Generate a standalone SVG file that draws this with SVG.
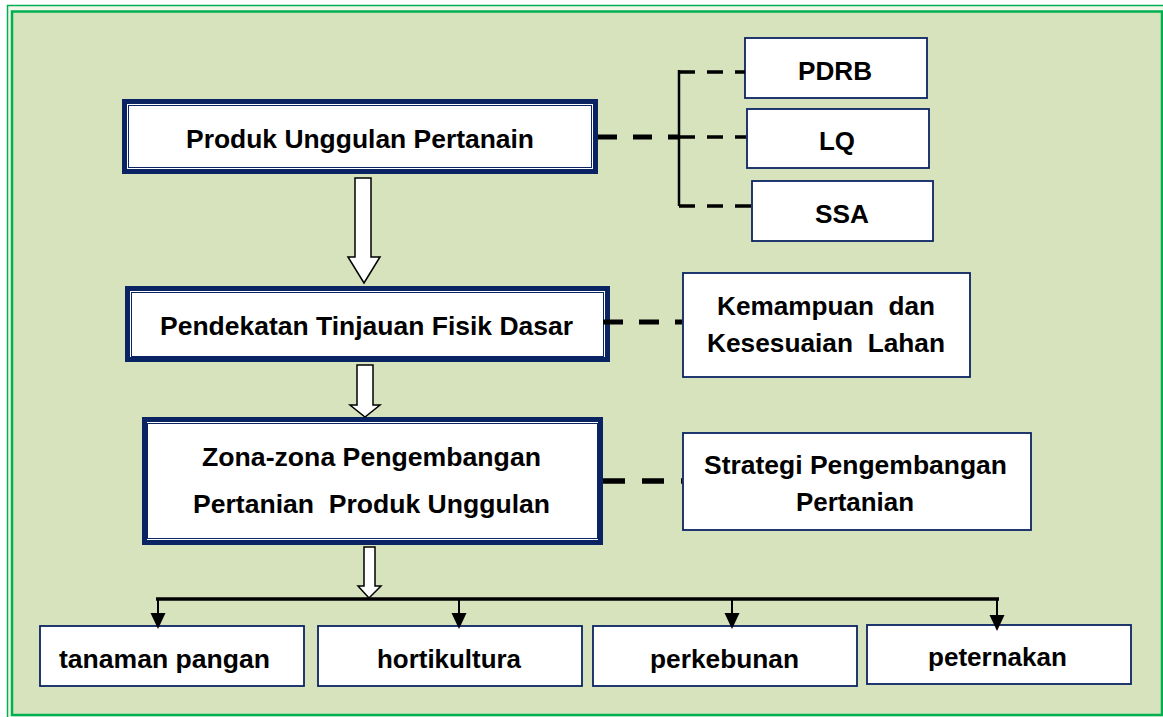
<svg xmlns="http://www.w3.org/2000/svg" width="1163" height="717" viewBox="0 0 1163 717">
<style>
.t{font-family:"Liberation Sans",Arial,sans-serif;font-weight:bold;font-size:25px;fill:#000;white-space:pre}
.b{font-size:26px}
.thick{fill:#fff;stroke:#0A2463;stroke-width:5}
.thin{fill:none;stroke:#0A2463;stroke-width:1}
.box{fill:#fff;stroke:#0A2463;stroke-width:1.8}
.blk{fill:#fff;stroke:#000;stroke-width:1.5;stroke-linejoin:miter}
.dash{fill:none;stroke:#000}
.head{fill:#000}
</style>
<rect width="1163" height="717" fill="#fff"/>
<rect x="7.5" y="5.5" width="1170" height="720" fill="#F2F7EA" stroke="#00B050" stroke-width="1.5"/>
<rect x="12" y="11.5" width="1150" height="703.5" fill="#D6E3BC" stroke="#00B050" stroke-width="2.5"/>

<g id="n-produk">
<rect class="thick" x="124.5" y="101.5" width="471" height="70"/>
<rect class="thin" x="128.5" y="105.5" width="463" height="62"/>
<text class="t" x="186" y="148" textLength="348" lengthAdjust="spacingAndGlyphs">Produk Unggulan Pertanain</text>
</g>
<g id="n-pendekatan">
<rect class="thick" x="127.5" y="288.5" width="480" height="71"/>
<rect class="thin" x="131.5" y="292.5" width="472" height="64"/>
<text class="t" x="160" y="335" textLength="413" lengthAdjust="spacingAndGlyphs">Pendekatan Tinjauan Fisik Dasar</text>
</g>
<g id="n-zona">
<rect class="thick" x="144.5" y="419.5" width="456" height="123"/>
<rect class="thin" x="147.5" y="423.5" width="450" height="115"/>
<text class="t" x="202" y="466" textLength="339" lengthAdjust="spacingAndGlyphs">Zona-zona Pengembangan</text>
<text class="t" x="193" y="513" textLength="357" lengthAdjust="spacingAndGlyphs">Pertanian  Produk Unggulan</text>
</g>
<g id="n-pdrb">
<rect class="box" x="745" y="38" width="182" height="60"/>
<text class="t" x="798" y="80" textLength="74" lengthAdjust="spacingAndGlyphs">PDRB</text>
</g>
<g id="n-lq">
<rect class="box" x="747" y="109" width="182" height="59"/>
<text class="t" x="819" y="150" textLength="36" lengthAdjust="spacingAndGlyphs">LQ</text>
</g>
<g id="n-ssa">
<rect class="box" x="752" y="181" width="181" height="60"/>
<text class="t" x="815" y="223" textLength="54" lengthAdjust="spacingAndGlyphs">SSA</text>
</g>
<g id="n-kemampuan">
<rect class="box" x="683" y="273" width="287" height="104"/>
<text class="t" x="717" y="315" textLength="218" lengthAdjust="spacingAndGlyphs">Kemampuan  dan</text>
<text class="t" x="707" y="352" textLength="238" lengthAdjust="spacingAndGlyphs">Kesesuaian  Lahan</text>
</g>
<g id="n-strategi">
<rect class="box" x="683" y="433" width="348" height="97"/>
<text class="t" x="704" y="474" textLength="303" lengthAdjust="spacingAndGlyphs">Strategi Pengembangan</text>
<text class="t" x="796" y="511" textLength="118" lengthAdjust="spacingAndGlyphs">Pertanian</text>
</g>
<g id="n-tanaman">
<rect class="box" x="40" y="626" width="264" height="60"/>
<text class="t b" x="59" y="668" textLength="211" lengthAdjust="spacingAndGlyphs">tanaman pangan</text>
</g>
<g id="n-hortikultura">
<rect class="box" x="318" y="626" width="264" height="60"/>
<text class="t b" x="377" y="668" textLength="144" lengthAdjust="spacingAndGlyphs">hortikultura</text>
</g>
<g id="n-perkebunan">
<rect class="box" x="593" y="626" width="264" height="60"/>
<text class="t b" x="650" y="668" textLength="149" lengthAdjust="spacingAndGlyphs">perkebunan</text>
</g>
<g id="n-peternakan">
<rect class="box" x="867" y="625" width="264" height="59"/>
<text class="t b" x="928" y="666" textLength="139" lengthAdjust="spacingAndGlyphs">peternakan</text>
</g>

<g id="connectors">
<polygon class="blk" points="355,178 371,178 371,257 380,257 364,283 348,257 355,257"/>
<polygon class="blk" points="357,365 373,365 373,405 380,405 365,417 350,405 357,405"/>
<polygon class="blk" points="364,547 375,547 375,586 381,586 369,598 358,586 364,586"/>
<path class="dash" d="M598 137 H679" stroke-width="5" stroke-dasharray="19 16"/>
<path class="dash" d="M679 137 H746" stroke-width="3.5" stroke-dasharray="16 12"/>
<path class="dash" d="M679 70 V206" stroke-width="2.5"/>
<path class="dash" d="M679 72 H745" stroke-width="3.5" stroke-dasharray="16 12"/>
<path class="dash" d="M679 206 H751" stroke-width="3.5" stroke-dasharray="16 12"/>
<path class="dash" d="M603 322 H682" stroke-width="5" stroke-dasharray="20 16"/>
<path class="dash" d="M603 481 H682" stroke-width="5.5" stroke-dasharray="22 17"/>
<path class="dash" d="M156 599 H999" stroke-width="3.5"/>
<path class="dash" d="M158 599 V614 M459 599 V614 M732 599 V614 M997 599 V616" stroke-width="2"/>
<polygon class="head" points="150.5,613 165.5,613 158,629"/>
<polygon class="head" points="451.5,613 466.5,613 459,629"/>
<polygon class="head" points="724.5,613 739.5,613 732,629"/>
<polygon class="head" points="989.5,615 1004.5,615 997,631"/>
</g>
</svg>
